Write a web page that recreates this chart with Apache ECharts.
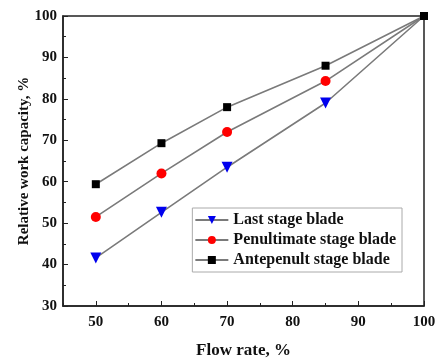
<!DOCTYPE html>
<html><head><meta charset="utf-8">
<script src="https://cdn.jsdelivr.net/npm/echarts@6/dist/echarts.min.js"></script>
<style>html,body{margin:0;padding:0;background:#fff}#c{width:436px;height:358px}</style>
</head><body><div id="c"></div>
<script>
const flowRate = [50, 60, 70, 85, 100];
const lastStage = [41.6, 52.6, 63.5, 79.0, 100];
const penultimateStage = [51.5, 62.0, 72.0, 84.3, 100];
const antepenultStage = [59.4, 69.3, 78.0, 88.0, 100];
const xTicks = [50, 60, 70, 80, 90, 100];
const seriesNames = ['Last stage blade', 'Penultimate stage blade', 'Antepenult stage blade'];

const font = 'Liberation Serif';
const chart = echarts.init(document.getElementById('c'));
// hideLast: the shared end point at 100 % is shown only by the topmost (square) marker
function pts(ys, hideLast){
  return flowRate.map((x,i)=> (hideLast && i === flowRate.length - 1)
    ? { value: [x, ys[i]], symbol: 'none' } : [x, ys[i]]);
}
chart.setOption({
  animation: false,
  backgroundColor: '#fff',
  grid: { left: 63, top: 16, right: 12, bottom: 52, outerBoundsMode: 'none', containLabel: false, show: true, borderColor: '#222', borderWidth: 1.5, backgroundColor: 'transparent' },
  legend: {
    data: seriesNames,
    orient: 'vertical',
    right: 34, top: 208,
    backgroundColor: '#fff',
    borderColor: '#aaa', borderWidth: 1,
    padding: [4, 6, 4, 2],
    itemGap: 4,
    itemWidth: 33, itemHeight: 10,
    textStyle: { fontFamily: font, fontWeight: 'bold', fontSize: 16, color: '#111' }
  },
  xAxis: [{
    type: 'value', min: 45, max: 100,
    name: 'Flow rate, %', nameLocation: 'middle', nameGap: 36, nameMoveOverlap: false,
    nameTextStyle: { fontFamily: font, fontWeight: 'bold', fontSize: 17, color: '#111' },
    axisLine: { show: true, lineStyle: { color: '#222', width: 1.5 } },
    axisTick: { show: true, inside: true, length: 5, customValues: xTicks, lineStyle: { color: '#222' } },
    axisLabel: { customValues: xTicks, margin: 9, fontFamily: font, fontWeight: 'bold', fontSize: 15, color: '#111' },
    splitLine: { show: false }
  }, {
    type: 'value', min: 45, max: 100, interval: 5, position: 'bottom',
    axisLine: { show: false },
    axisTick: { show: true, inside: true, length: 3, lineStyle: { color: '#222' } },
    axisLabel: { show: false },
    splitLine: { show: false }
  }],
  yAxis: {
    type: 'value', min: 30, max: 100, interval: 10,
    name: 'Relative work capacity, %', nameLocation: 'middle', nameGap: 31, nameMoveOverlap: false,
    nameTextStyle: { fontFamily: font, fontWeight: 'bold', fontSize: 15, color: '#111' },
    axisLine: { show: true, lineStyle: { color: '#222', width: 1.5 } },
    axisTick: { show: true, inside: true, length: 5, lineStyle: { color: '#222' } },
    minorTick: { show: true, splitNumber: 2, length: 3, lineStyle: { color: '#222' } },
    axisLabel: { margin: 6, fontFamily: font, fontWeight: 'bold', fontSize: 15, color: '#111' },
    splitLine: { show: false }
  },
  series: [
    { name: seriesNames[0], type: 'line', z: 3, data: pts(lastStage, true), symbol: 'triangle', symbolRotate: 180, symbolSize: 11,
      itemStyle: { color: '#0000ee' }, lineStyle: { color: '#7a7a7a', width: 1.6 } },
    { name: seriesNames[1], type: 'line', z: 4, data: pts(penultimateStage, true), symbol: 'circle', symbolSize: 10,
      itemStyle: { color: '#ff0000' }, lineStyle: { color: '#7a7a7a', width: 1.6 } },
    { name: seriesNames[2], type: 'line', z: 5, data: pts(antepenultStage, false), symbol: 'rect', symbolSize: 8,
      itemStyle: { color: '#000' }, lineStyle: { color: '#7a7a7a', width: 1.6 } }
  ]
});
</script></body></html>
